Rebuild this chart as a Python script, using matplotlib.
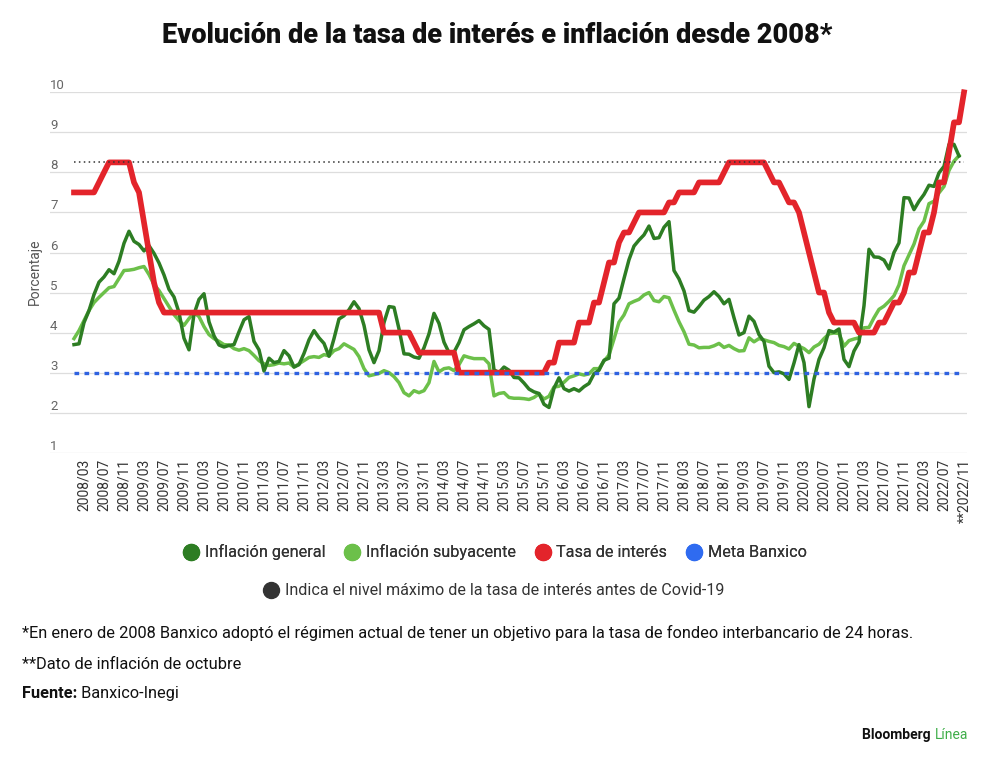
import numpy as np
import matplotlib
matplotlib.use("Agg")
import matplotlib.pyplot as plt
from matplotlib.lines import Line2D

plt.rcParams['font.family'] = ['Roboto', 'DejaVu Sans']

## monthly data, 2008/01 .. 2022/11 (inflation up to 2022/10)
tasa_interes = (
    [7.5, 7.5, 7.5, 7.5, 7.5, 7.75, 8.0, 8.25, 8.25, 8.25, 8.25, 8.25] +           # 2008
    [7.75, 7.5, 6.75, 6.0, 5.25, 4.75, 4.5, 4.5, 4.5, 4.5, 4.5, 4.5] +             # 2009
    [4.5] * 12 + [4.5] * 12 + [4.5] * 12 +                                         # 2010-2012
    [4.5, 4.5, 4.0, 4.0, 4.0, 4.0, 4.0, 4.0, 3.75, 3.5, 3.5, 3.5] +                # 2013
    [3.5, 3.5, 3.5, 3.5, 3.5, 3.0, 3.0, 3.0, 3.0, 3.0, 3.0, 3.0] +                 # 2014
    [3.0, 3.0, 3.0, 3.0, 3.0, 3.0, 3.0, 3.0, 3.0, 3.0, 3.0, 3.25] +                # 2015
    [3.25, 3.75, 3.75, 3.75, 3.75, 4.25, 4.25, 4.25, 4.75, 4.75, 5.25, 5.75] +     # 2016
    [5.75, 6.25, 6.5, 6.5, 6.75, 7.0, 7.0, 7.0, 7.0, 7.0, 7.0, 7.25] +             # 2017
    [7.25, 7.5, 7.5, 7.5, 7.5, 7.75, 7.75, 7.75, 7.75, 7.75, 8.0, 8.25] +          # 2018
    [8.25, 8.25, 8.25, 8.25, 8.25, 8.25, 8.25, 8.0, 7.75, 7.75, 7.5, 7.25] +       # 2019
    [7.25, 7.0, 6.5, 6.0, 5.5, 5.0, 5.0, 4.5, 4.25, 4.25, 4.25, 4.25] +            # 2020
    [4.25, 4.0, 4.0, 4.0, 4.0, 4.25, 4.25, 4.5, 4.75, 4.75, 5.0, 5.5] +            # 2021
    [5.5, 6.0, 6.5, 6.5, 7.0, 7.75, 7.75, 8.5, 9.25, 9.25, 10.0]                   # 2022
)

inflacion_general = (
    [3.70, 3.72, 4.25, 4.55, 4.95, 5.26, 5.39, 5.57, 5.47, 5.78, 6.23, 6.53] +
    [6.28, 6.20, 6.04, 6.17, 5.98, 5.74, 5.44, 5.08, 4.89, 4.50, 3.86, 3.57] +
    [4.46, 4.83, 4.97, 4.27, 3.92, 3.69, 3.64, 3.68, 3.70, 4.02, 4.32, 4.40] +
    [3.78, 3.57, 3.04, 3.36, 3.25, 3.28, 3.55, 3.42, 3.14, 3.20, 3.48, 3.82] +
    [4.05, 3.87, 3.73, 3.41, 3.85, 4.34, 4.42, 4.57, 4.77, 4.60, 4.18, 3.57] +
    [3.25, 3.55, 4.25, 4.65, 4.63, 4.09, 3.47, 3.46, 3.39, 3.36, 3.62, 3.97] +
    [4.48, 4.23, 3.76, 3.50, 3.51, 3.75, 4.07, 4.15, 4.22, 4.30, 4.17, 4.08] +
    [3.07, 3.00, 3.14, 3.06, 2.88, 2.87, 2.74, 2.59, 2.52, 2.48, 2.21, 2.13] +
    [2.61, 2.87, 2.60, 2.54, 2.60, 2.54, 2.65, 2.73, 2.97, 3.06, 3.31, 3.36] +
    [4.72, 4.86, 5.35, 5.82, 6.16, 6.31, 6.44, 6.66, 6.35, 6.37, 6.63, 6.77] +
    [5.55, 5.34, 5.04, 4.55, 4.51, 4.65, 4.81, 4.90, 5.02, 4.90, 4.72, 4.83] +
    [4.37, 3.94, 4.00, 4.41, 4.28, 3.95, 3.78, 3.16, 3.00, 3.02, 2.97, 2.83] +
    [3.24, 3.70, 3.25, 2.15, 2.84, 3.33, 3.62, 4.05, 4.01, 4.09, 3.33, 3.15] +
    [3.54, 3.76, 4.67, 6.08, 5.89, 5.88, 5.81, 5.59, 6.00, 6.24, 7.37, 7.36] +
    [7.07, 7.28, 7.45, 7.68, 7.65, 7.99, 8.15, 8.70, 8.70, 8.41]
)

inflacion_subyacente = (
    [3.85, 4.05, 4.30, 4.55, 4.75, 4.88, 5.00, 5.12, 5.15, 5.35, 5.55, 5.56] +
    [5.58, 5.62, 5.65, 5.45, 5.20, 5.05, 4.85, 4.65, 4.45, 4.30, 4.18, 4.35] +
    [4.50, 4.40, 4.15, 3.95, 3.85, 3.78, 3.70, 3.69, 3.60, 3.56, 3.60, 3.55] +
    [3.43, 3.30, 3.22, 3.18, 3.20, 3.24, 3.22, 3.24, 3.14, 3.22, 3.30, 3.38] +
    [3.40, 3.38, 3.45, 3.42, 3.55, 3.60, 3.72, 3.65, 3.58, 3.40, 3.10, 2.92] +
    [2.95, 2.98, 3.05, 3.00, 2.90, 2.75, 2.50, 2.42, 2.55, 2.50, 2.55, 2.75] +
    [3.28, 3.02, 3.10, 3.12, 3.05, 3.20, 3.42, 3.38, 3.35, 3.35, 3.35, 3.22] +
    [2.42, 2.48, 2.50, 2.38, 2.36, 2.36, 2.35, 2.33, 2.38, 2.47, 2.34, 2.41] +
    [2.64, 2.66, 2.76, 2.88, 2.92, 2.97, 2.94, 2.97, 3.10, 3.10, 3.29, 3.44] +
    [3.84, 4.26, 4.44, 4.72, 4.78, 4.83, 4.94, 5.00, 4.80, 4.77, 4.90, 4.87] +
    [4.56, 4.27, 4.02, 3.71, 3.69, 3.62, 3.63, 3.63, 3.67, 3.73, 3.63, 3.68] +
    [3.60, 3.54, 3.55, 3.87, 3.77, 3.85, 3.82, 3.78, 3.75, 3.68, 3.65, 3.59] +
    [3.73, 3.66, 3.60, 3.50, 3.64, 3.71, 3.85, 3.97, 3.99, 3.98, 3.66, 3.80] +
    [3.84, 3.87, 4.12, 4.13, 4.37, 4.58, 4.66, 4.78, 4.92, 5.19, 5.67, 5.94] +
    [6.21, 6.59, 6.78, 7.22, 7.28, 7.49, 7.65, 8.05, 8.28, 8.42]
)

meta_banxico = 3.0
max_pre_covid = 8.25

meses = np.arange(len(tasa_interes))
meses_infl = meses[:len(inflacion_general)]

tick_pos = list(range(2, len(tasa_interes), 4))
tick_labels = ['%d/%02d' % (2008 + m // 12, m % 12 + 1) for m in tick_pos]
tick_labels[-1] = '**' + tick_labels[-1]

c_general = '#2d7d23'
c_suby = '#6cc04a'
c_tasa = '#e3242b'
c_meta = '#2f62e0'
c_max = '#333333'

fig = plt.figure(figsize=(10, 7.68), dpi=100)
ax = fig.add_axes([0.05, 0.4105, 0.917, 0.4693])

ax.plot(meses_infl, inflacion_subyacente, color=c_suby, lw=2.5, zorder=3)
ax.plot(meses_infl, inflacion_general, color=c_general, lw=2.5, zorder=4)
ax.plot(meses, tasa_interes, color=c_tasa, lw=4.1, zorder=5, clip_on=False)
ax.plot(meses_infl, [meta_banxico] * len(meses_infl), color=c_meta, lw=2.4,
        linestyle=(0, (1.4, 1.6)), dash_capstyle='butt', zorder=6)
ax.plot(meses, [max_pre_covid] * len(meses), color=c_max, lw=1.1,
        linestyle=(0, (1, 2.2)), zorder=6)

ax.set_xlim(-4.8, 178.6)
ax.set_ylim(1, 10)
ax.set_yticks(range(1, 11))
ax.grid(axis='y', color='#dddddd', lw=0.9, zorder=0)
for s in ax.spines.values():
    s.set_visible(False)
ax.tick_params(axis='y', length=0, pad=0, labelsize=9.5, labelcolor='#666666')
for lbl in ax.get_yticklabels():
    lbl.set_horizontalalignment('left')
    lbl.set_verticalalignment('bottom')

ax.set_xticks(tick_pos)
ax.set_xticklabels(tick_labels, rotation=90, fontsize=10, color='#333333')
ax.tick_params(axis='x', length=0, pad=4)

fig.text(0.035, 0.646, 'Porcentaje', rotation=90, ha='center', va='center',
         fontsize=10, color='#555555')

fig.text(0.497, 0.954, 'Evolución de la tasa de interés e inflación desde 2008*',
         ha='center', va='center', fontsize=19.5, fontweight='black', color='#111111')

## legend
def dot(c):
    return Line2D([], [], marker='o', ls='', markersize=11.5, color=c)

leg1 = fig.legend([dot(c_general), dot(c_suby), dot(c_tasa), dot('#2f6bf0')],
                  ['Inflación general', 'Inflación subyacente', 'Tasa de interés', 'Meta Banxico'],
                  loc='center', bbox_to_anchor=(0.494, 0.281), ncol=4, frameon=False,
                  handletextpad=0.25, columnspacing=1.05, handlelength=1.2, fontsize=11.7)
for t in leg1.get_texts():
    t.set_color('#333333')
leg2 = fig.legend([dot(c_max)], ['Indica el nivel máximo de la tasa de interés antes de Covid-19'],
                  loc='center', bbox_to_anchor=(0.493, 0.2305), frameon=False,
                  handletextpad=0.25, handlelength=1.2, fontsize=11.6)
for t in leg2.get_texts():
    t.set_color('#333333')
fig.add_artist(leg1)

## footnotes
fig.text(0.022, 0.176, '*En enero de 2008 Banxico adoptó el régimen actual de tener un objetivo '
         'para la tasa de fondeo interbancario de 24 horas.', ha='left', va='center',
         fontsize=11.75, color='#111111')
fig.text(0.022, 0.1354, '**Dato de inflación de octubre', ha='left', va='center',
         fontsize=11.75, color='#111111')
t_fuente = fig.text(0.022, 0.0964, 'Fuente:', ha='left', va='center', fontsize=11.75,
                    fontweight='bold', color='#111111')
ax.annotate(' Banxico-Inegi', xy=(1, 0.5), xycoords=t_fuente, ha='left', va='center',
            fontsize=11.75, color='#111111', annotation_clip=False)

t_linea = fig.text(0.968, 0.043, 'Línea', ha='right', va='center', fontsize=10,
                   color='#3fae49')
ax.annotate('Bloomberg ', xy=(0, 0.5), xycoords=t_linea, ha='right', va='center',
            fontsize=10, fontweight='bold', color='#111111', annotation_clip=False)

plt.savefig('out.png', dpi=100)
